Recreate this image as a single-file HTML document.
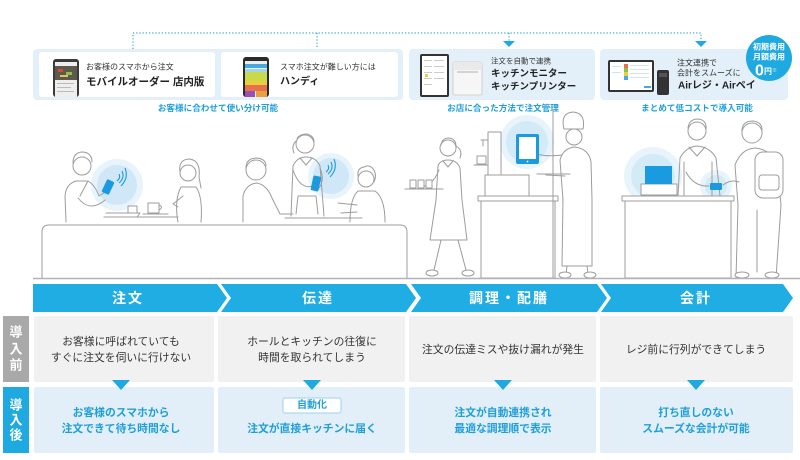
<!DOCTYPE html>
<html><head><meta charset="utf-8">
<style>
html,body{margin:0;padding:0;background:#fff;}
body{width:800px;height:460px;overflow:hidden;position:relative;}
svg{position:absolute;left:0;top:0;}
text{font-family:"Liberation Sans","Noto Sans CJK JP",sans-serif;}
</style></head>
<body>
<svg width="800" height="460" viewBox="0 0 800 460" xmlns="http://www.w3.org/2000/svg">
<!-- dotted connector -->
<g stroke="#2aa8e0" stroke-width="1.2" stroke-dasharray="1.2 2" fill="none">
<path d="M133,49 V33 H701 V41"/>
<path d="M317,33 V49"/>
<path d="M509,33 V41"/>
</g>
<polygon points="503,41 515,41 509,47" fill="#1fa9e1"/>
<polygon points="695,41 707,41 701,47" fill="#1fa9e1"/>

<!-- top groups -->
<rect x="33" y="49" width="370" height="51" rx="4" fill="#e3f0f9"/>
<rect x="39" y="52" width="176" height="45" rx="3" fill="#fff"/>
<rect x="221" y="52" width="177" height="45" rx="3" fill="#fff"/>
<rect x="409" y="49" width="186" height="51" rx="4" fill="#e3f0f9"/>
<rect x="600" y="49" width="188" height="51" rx="4" fill="#e3f0f9"/>

<!-- phone 1 -->
<rect x="53" y="59" width="26" height="38" rx="3" fill="#3a3a3a"/>
<rect x="55" y="62" width="22" height="35" fill="#eee"/>
<rect x="55" y="66" width="22" height="14" fill="#5d5a4c"/>
<rect x="58" y="69" width="5" height="3" fill="#d94b2e"/>
<rect x="66" y="72" width="6" height="3" fill="#8cc04a"/>
<rect x="60" y="75" width="8" height="2" fill="#e0c060"/>
<rect x="57" y="83" width="17" height="1" fill="#bbb"/>
<rect x="57" y="87" width="14" height="1" fill="#bbb"/>
<rect x="57" y="91" width="17" height="1" fill="#bbb"/>
<!-- phone 2 -->
<rect x="243" y="57" width="26" height="40" rx="3" fill="#2a2a2a"/>
<rect x="245" y="61" width="22" height="36" fill="#eee"/>
<rect x="245" y="64" width="22" height="4" fill="#4aa8e0"/>
<rect x="245" y="69" width="22" height="3" fill="#9fd4f0"/>
<rect x="245" y="72" width="22" height="9" fill="#c9d94a"/>
<rect x="245" y="81" width="22" height="4" fill="#e8cf3c"/>
<rect x="245" y="85" width="22" height="6" fill="#e8704a"/>
<rect x="245" y="91" width="10" height="6" fill="#9a4fb5"/>
<rect x="256" y="91" width="11" height="6" fill="#e8a040"/>
<!-- group2 tablet & printer -->
<rect x="420" y="54" width="29" height="43" rx="2" fill="#333"/>
<rect x="422" y="56" width="25" height="39" fill="#fff"/>
<g fill="#ccc"><rect x="424" y="60" width="8" height="1"/><rect x="434" y="60" width="10" height="1"/><rect x="424" y="66" width="8" height="1"/><rect x="434" y="66" width="10" height="1"/><rect x="424" y="72" width="8" height="1"/><rect x="434" y="72" width="10" height="1"/><rect x="424" y="78" width="8" height="1"/><rect x="434" y="78" width="10" height="1"/><rect x="424" y="84" width="8" height="1"/></g>
<rect x="425" y="74" width="3" height="3" fill="#e8d040"/>
<rect x="453" y="62" width="29" height="33" rx="2" fill="#f6f6f6" stroke="#c8c8c8" stroke-width="0.8"/>
<rect x="453" y="62" width="29" height="8" rx="2" fill="#eaeaea"/>
<line x1="457" y1="72" x2="478" y2="72" stroke="#999" stroke-width="0.8"/>
<!-- group3 tablet & reader -->
<rect x="608" y="60" width="46" height="32" rx="2" fill="#333"/>
<rect x="610" y="62" width="42" height="28" fill="#fff"/>
<rect x="624" y="64" width="4" height="4" fill="#e8704a"/>
<rect x="624" y="68" width="4" height="4" fill="#8cc04a"/>
<rect x="624" y="72" width="4" height="4" fill="#e8cf3c"/>
<rect x="624" y="76" width="4" height="4" fill="#4aa8e0"/>
<g fill="#cfe3f0"><rect x="630" y="65" width="19" height="1"/><rect x="630" y="69" width="19" height="1"/><rect x="630" y="73" width="19" height="1"/><rect x="630" y="77" width="19" height="1"/><rect x="612" y="66" width="9" height="1"/><rect x="612" y="72" width="9" height="1"/></g>
<rect x="644" y="86" width="7" height="2" fill="#4aa8e0"/>
<rect x="657" y="70" width="12" height="25" rx="2" fill="#333"/>
<rect x="659" y="73" width="8" height="4" fill="#555"/>

<!-- badge -->
<circle cx="769" cy="58" r="23" fill="#1fa9e1"/>
<text x="769" y="47" font-size="8" font-weight="bold" fill="#fff" text-anchor="middle" dominant-baseline="central">初期費用</text>
<text x="769" y="57" font-size="8" font-weight="bold" fill="#fff" text-anchor="middle" dominant-baseline="central">月額費用</text>
<text x="766" y="71" font-size="16" font-weight="bold" fill="#fff" text-anchor="middle" dominant-baseline="central">0<tspan font-size="8">円</tspan><tspan font-size="5">※</tspan></text>

<!-- top texts -->
<text x="86" y="67" font-size="8" fill="#333" dominant-baseline="central">お客様のスマホから注文</text>
<text x="86" y="82" font-size="10.5" font-weight="bold" fill="#222" dominant-baseline="central">モバイルオーダー 店内版</text>
<text x="280" y="67" font-size="8" fill="#333" dominant-baseline="central">スマホ注文が難しい方には</text>
<text x="280" y="82" font-size="10" font-weight="bold" fill="#222" dominant-baseline="central">ハンディ</text>
<text x="491" y="61" font-size="7.5" fill="#333" dominant-baseline="central">注文を自動で連携</text>
<text x="491" y="74" font-size="9.5" font-weight="bold" fill="#222" dominant-baseline="central">キッチンモニター</text>
<text x="491" y="87" font-size="9.5" font-weight="bold" fill="#222" dominant-baseline="central">キッチンプリンター</text>
<text x="677" y="63" font-size="8" fill="#333" dominant-baseline="central">注文連携で</text>
<text x="677" y="73" font-size="8" fill="#333" dominant-baseline="central">会計をスムーズに</text>
<text x="678" y="86" font-size="10" font-weight="bold" fill="#222" dominant-baseline="central">Airレジ・Airペイ</text>
<text x="218" y="108" font-size="8.6" font-weight="bold" fill="#1f9fd8" text-anchor="middle" dominant-baseline="central">お客様に合わせて使い分け可能</text>
<text x="503" y="108" font-size="8.6" font-weight="bold" fill="#1f9fd8" text-anchor="middle" dominant-baseline="central">お店に合った方法で注文管理</text>
<text x="697" y="108" font-size="8.6" font-weight="bold" fill="#1f9fd8" text-anchor="middle" dominant-baseline="central">まとめて低コストで導入可能</text>

<!-- glows -->
<g>
<circle cx="117" cy="185" r="26" fill="#e8f4fb"/><circle cx="117" cy="185" r="20" fill="#cfe7f6"/>
<circle cx="331" cy="176" r="23" fill="#e8f4fb"/><circle cx="331" cy="176" r="18" fill="#cfe7f6"/>
<circle cx="527" cy="142" r="27" fill="#e8f4fb"/><circle cx="527" cy="142" r="21" fill="#d3eaf7"/>
<circle cx="653" cy="176" r="29" fill="#e8f4fb"/><circle cx="653" cy="176" r="22" fill="#d3eaf7"/>
<circle cx="716" cy="186" r="16" fill="#e8f4fb"/><circle cx="716" cy="186" r="11" fill="#d3eaf7"/>
</g>

<!-- illustration strokes -->
<g stroke="#9c9c9c" stroke-width="1" fill="none" stroke-linecap="round" stroke-linejoin="round">
<!-- bench -->
<path d="M42,278 V232 Q42,225 49,225 H400 Q407,225 407,232 V278" fill="#fff"/>
<!-- man 1 -->
<circle cx="82" cy="166" r="9"/>
<path d="M73,163 Q73,152 83,152 Q92,153 92,162"/>
<path d="M66,222 L65,196 Q66,184 76,181 L88,181 Q95,185 99,196 L107,191"/>
<path d="M78,198 Q90,213 105,200"/>
<path d="M88,181 L80,196"/>
<!-- table 1 -->
<path d="M104,217 H178"/>
<path d="M106,213 H140 L137,217"/>
<path d="M143,214 H168"/>
<rect x="128" y="206" width="9" height="7" fill="#fff"/>
<rect x="148" y="203" width="11" height="10" fill="#fff"/>
<path d="M159,205 Q164,207 159,210"/>
<!-- woman 1 -->
<circle cx="188" cy="173" r="8"/>
<path d="M180,172 Q178,159 190,159 Q201,161 199,177 L201,188"/>
<path d="M178,222 Q174,200 181,187 L196,187 Q203,197 201,222"/>
<path d="M183,196 L173,204 L178,207"/>
<!-- man 2 -->
<circle cx="256" cy="170" r="10"/>
<path d="M246,168 Q246,158 257,158 Q266,159 266,166"/>
<path d="M243,222 L243,196 Q246,184 257,183 Q267,185 272,198 L280,214 L293,214"/>
<!-- waitress 2 -->
<circle cx="305" cy="144" r="9"/>
<path d="M296,141 Q291,146 294,153"/>
<path d="M297,139 Q299,134 307,134 Q314,136 314,142"/>
<path d="M291,216 L293,166 Q297,157 306,157 Q316,157 320,166 L324,216"/>
<path d="M300,158 L306,165 L312,158"/>
<path d="M298,196 L296,214 M316,196 L318,214 M298,196 H316"/>
<path d="M293,170 Q300,190 313,186"/>
<path d="M320,168 Q325,180 319,188"/>
<!-- old woman -->
<circle cx="366" cy="179" r="8"/>
<path d="M358,176 Q357,168 364,167 Q370,164 374,170 Q377,176 374,182"/>
<path d="M350,222 Q350,198 358,191 L375,191 Q385,198 385,222"/>
<path d="M357,205 L338,203 M357,212 L341,213"/>
<path d="M285,218 H362"/>
<!-- walking waitress -->
<circle cx="448" cy="148" r="8"/>
<path d="M441,145 Q442,138 449,138 Q456,139 456,146 Q463,150 460,158"/>
<path d="M436,200 L438,166 Q440,160 448,160 Q457,160 460,168 L462,200"/>
<path d="M443,161 L448,167 L453,161"/>
<path d="M436,200 L430,240 H467 L462,200" fill="#fff"/>
<path d="M441,240 L434,270 M458,240 L466,270"/>
<ellipse cx="432" cy="273" rx="6" ry="3" fill="#fff"/>
<ellipse cx="468" cy="273" rx="6" ry="3" fill="#fff"/>
<path d="M439,170 Q433,186 418,188"/>
<path d="M405,189 H443"/>
<rect x="410" y="180" width="6" height="8" fill="#fff"/>
<rect x="418" y="180" width="6" height="8" fill="#fff"/>
<rect x="426" y="180" width="6" height="8" fill="#fff"/>
<!-- coffee machine & counter -->
<rect x="488" y="132" width="13" height="43" fill="#fff"/>
<path d="M481,140 H488 M483,140 V146"/>
<rect x="477" y="156" width="9" height="8" fill="#fff"/>
<path d="M474,165 H488"/>
<rect x="485" y="175" width="44" height="21" fill="#fff"/>
<rect x="478" y="196" width="80" height="5" fill="#fff"/>
<rect x="481" y="201" width="74" height="77" fill="#fff"/>
<path d="M553,110 V278"/>
<!-- chef -->
<path d="M564,129 Q560,113 573,112 Q586,113 583,129 Z" fill="#fff"/>
<circle cx="574" cy="137" r="8" fill="#fff"/>
<path d="M560,160 Q563,148 575,147 Q589,149 591,162 L592,200 L563,200 Z" fill="#fff"/>
<path d="M563,198 L562,266 H592 L592,198" fill="#fff"/>
<path d="M567,266 L566,274 M587,266 L588,274"/>
<ellipse cx="565" cy="275" rx="6" ry="3" fill="#fff"/>
<ellipse cx="590" cy="275" rx="6" ry="3" fill="#fff"/>
<path d="M562,155 Q548,157 536,154"/>
<path d="M565,176 L546,175"/>
<path d="M537,174 H570"/>
<!-- tablet 3 -->
</g>
<rect x="516" y="134" width="23" height="30" rx="2" fill="#1a9be0"/>
<rect x="519" y="137" width="17" height="22" fill="#fff"/>
<circle cx="527.5" cy="161.5" r="0.9" fill="#fff"/>
<!-- phones in illustration -->
<rect x="104" y="180" width="8" height="14" rx="1.5" fill="#1a9be0" transform="rotate(25 108 187)"/>
<rect x="312" y="176" width="8" height="15" rx="1.5" fill="#1a9be0" transform="rotate(12 316 183)"/>
<g stroke="#1a9be0" stroke-width="1.1" fill="none">
<path d="M117,181 Q121,178 119,174"/><path d="M119,183 Q125,178 122,171"/><path d="M121,186 Q129,178 125,168"/>
<path d="M326,172 Q330,169 328,165"/><path d="M328,174 Q334,169 331,162"/><path d="M330,177 Q338,169 334,159"/>
</g>
<!-- register area -->
<g stroke="#9c9c9c" stroke-width="1" fill="none" stroke-linecap="round" stroke-linejoin="round">
<rect x="622" y="196" width="112" height="5" fill="#fff"/>
<rect x="625" y="201" width="106" height="77" fill="#fff"/>
<rect x="641" y="184" width="36" height="11" fill="#fff"/>
<!-- cashier -->
<circle cx="697" cy="131" r="9" fill="#fff"/>
<path d="M688,128 Q689,119 698,119 Q707,120 706,129"/>
<path d="M678,196 L680,158 Q686,147 697,146 Q710,147 716,158 L720,196"/>
<path d="M689,147 L697,156 L705,147"/>
<path d="M684,162 V196 M712,162 V196"/>
<path d="M686,172 Q694,187 709,186"/>
<path d="M723,185 Q731,179 739,182"/>
<!-- customer -->
<circle cx="752" cy="133" r="10" fill="#fff"/>
<path d="M742,131 Q742,121 753,121 Q762,122 762,130"/>
<path d="M736,278 L738,205 L735,165 Q741,149 755,148 Q770,149 777,164 L781,205 L776,278"/>
<rect x="755" y="152" width="28" height="46" rx="8" fill="#fff"/>
<rect x="759" y="175" width="20" height="15" rx="3"/>
<path d="M757,210 L757,272"/>
<ellipse cx="742" cy="275" rx="7" ry="3" fill="#fff"/>
<ellipse cx="772" cy="275" rx="7" ry="3" fill="#fff"/>
</g>
<rect x="645" y="166" width="27" height="18" fill="#1a9be0"/>
<rect x="710" y="183" width="12" height="7" rx="1" fill="#1a9be0"/>
<!-- floor -->
<path d="M33,278.5 H800" stroke="#b3b3b3" stroke-width="1.5"/>

<!-- step bands -->
<polygon points="33,284 217,284 227,298 217,312 33,312" fill="#1fade3"/>
<polygon points="221,284 406,284 416,298 406,312 221,312 231,298" fill="#1fade3"/>
<polygon points="411,284 597,284 607,298 597,312 411,312 421,298" fill="#1fade3"/>
<polygon points="601,284 783,284 793,298 783,312 601,312 611,298" fill="#1fade3"/>
<g font-size="14" font-weight="bold" fill="#fff" text-anchor="middle" letter-spacing="2">
<text x="128" y="298" dominant-baseline="central">注文</text>
<text x="318" y="298" dominant-baseline="central">伝達</text>
<text x="509" y="298" dominant-baseline="central">調理・配膳</text>
<text x="696" y="298" dominant-baseline="central">会計</text>
</g>

<!-- side labels -->
<rect x="3" y="316" width="26" height="66" fill="#a9a9a9"/>
<rect x="3" y="387" width="26" height="66" fill="#1fa9e1"/>
<g font-size="13" font-weight="bold" fill="#fff" text-anchor="middle">
<text x="16" y="332" dominant-baseline="central">導</text>
<text x="16" y="349" dominant-baseline="central">入</text>
<text x="16" y="365" dominant-baseline="central">前</text>
<text x="16" y="405" dominant-baseline="central">導</text>
<text x="16" y="420" dominant-baseline="central">入</text>
<text x="16" y="435" dominant-baseline="central">後</text>
</g>

<!-- row 1 cells -->
<g fill="#f1f1f1">
<rect x="34" y="316" width="180" height="66" rx="2"/>
<rect x="218" y="316" width="187" height="66" rx="2"/>
<rect x="409" y="316" width="187" height="66" rx="2"/>
<rect x="600" y="316" width="193" height="66" rx="2"/>
</g>
<g fill="#e2eff8">
<rect x="34" y="387" width="180" height="66" rx="2"/>
<rect x="218" y="387" width="187" height="66" rx="2"/>
<rect x="409" y="387" width="187" height="66" rx="2"/>
<rect x="600" y="387" width="193" height="66" rx="2"/>
</g>
<g fill="#1fa9e1">
<polygon points="112,380 130,380 121,390"/>
<polygon points="303,380 321,380 312,390"/>
<polygon points="494,380 512,380 503,390"/>
<polygon points="687,380 705,380 696,390"/>
</g>
<g font-size="10.8" fill="#333" text-anchor="middle">
<text x="121" y="342" dominant-baseline="central">お客様に呼ばれていても</text>
<text x="121" y="358" dominant-baseline="central">すぐに注文を伺いに行けない</text>
<text x="312" y="342" dominant-baseline="central">ホールとキッチンの往復に</text>
<text x="312" y="358" dominant-baseline="central">時間を取られてしまう</text>
<text x="503" y="350" dominant-baseline="central">注文の伝達ミスや抜け漏れが発生</text>
<text x="696" y="350" dominant-baseline="central">レジ前に行列ができてしまう</text>
</g>
<rect x="283" y="398" width="58" height="15" rx="2" fill="#fff" stroke="#9fd2ee" stroke-width="1"/>
<g font-size="10.8" font-weight="bold" fill="#1f9fd8" text-anchor="middle">
<text x="121" y="413" dominant-baseline="central">お客様のスマホから</text>
<text x="121" y="429" dominant-baseline="central">注文できて待ち時間なし</text>
<text x="312" y="405.5" font-size="10" dominant-baseline="central">自動化</text>
<text x="312" y="429" dominant-baseline="central">注文が直接キッチンに届く</text>
<text x="503" y="413" dominant-baseline="central">注文が自動連携され</text>
<text x="503" y="429" dominant-baseline="central">最適な調理順で表示</text>
<text x="696" y="413" dominant-baseline="central">打ち直しのない</text>
<text x="696" y="429" dominant-baseline="central">スムーズな会計が可能</text>
</g>
</svg>
</body></html>
